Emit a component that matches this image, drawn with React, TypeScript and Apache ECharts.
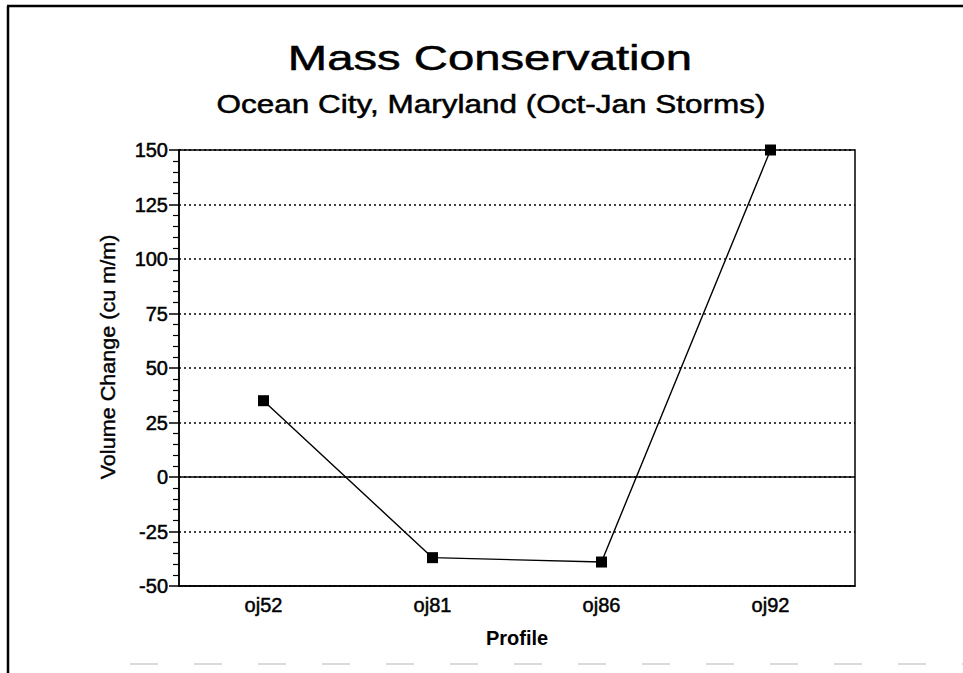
import React, { useEffect, useRef } from "react";
import * as echarts from "echarts";

const categories = ["oj52", "oj81", "oj86", "oj92"];
const volumeChange = [35, -37, -39, 150];
const titleText = "Mass Conservation";
const subtitleText = "Ocean City, Maryland (Oct-Jan Storms)";
const yAxisName = "Volume Change (cu m/m)";
const xAxisName = "Profile";

const FONT = "'Liberation Sans', Arial, Helvetica, sans-serif";
const heavy = { textBorderColor: "#000", textBorderWidth: 0.5 };

export default function App() {
  const ref = useRef<HTMLDivElement>(null);
  useEffect(() => {
    if (!ref.current) return;
    const chart = echarts.init(ref.current, null, { renderer: "svg" });
    chart.setOption({
      animation: false,
      backgroundColor: "#fff",
      grid: {
        left: 179,
        top: 150,
        width: 676,
        height: 436,
        show: true,
        borderColor: "#000",
        borderWidth: 1.5,
      },
      graphic: [
        { type: "line", shape: { x1: 8, y1: 6, x2: 8, y2: 673 }, style: { stroke: "#000", lineWidth: 2.5 } },
        { type: "line", shape: { x1: 7, y1: 6, x2: 963, y2: 6 }, style: { stroke: "#000", lineWidth: 2.5 } },
        {
          type: "line",
          shape: { x1: 130, y1: 664, x2: 963, y2: 664 },
          style: { stroke: "#dadada", lineWidth: 2, lineDash: [28, 36] },
        },
        {
          type: "text",
          x: 490,
          y: 58,
          scaleX: 1.35,
          style: {
            text: titleText,
            fontSize: 35,
            fontFamily: FONT,
            fill: "#000",
            stroke: "#000",
            lineWidth: 0.5,
            textAlign: "center",
            textVerticalAlign: "middle",
          },
        },
        {
          type: "text",
          x: 491,
          y: 104,
          scaleX: 1.26,
          style: {
            text: subtitleText,
            fontSize: 25,
            fontFamily: FONT,
            fill: "#000",
            stroke: "#000",
            lineWidth: 0.5,
            textAlign: "center",
            textVerticalAlign: "middle",
          },
        },
        {
          type: "text",
          x: 108,
          y: 357,
          rotation: Math.PI / 2,
          scaleX: 1.08,
          style: {
            text: yAxisName,
            fontSize: 20,
            fontFamily: FONT,
            fill: "#000",
            stroke: "#000",
            lineWidth: 0.4,
            textAlign: "center",
            textVerticalAlign: "middle",
          },
        },
      ],
      xAxis: {
        type: "category",
        data: categories,
        boundaryGap: true,
        name: xAxisName,
        nameLocation: "middle",
        nameGap: 42,
        nameTextStyle: { fontSize: 20, fontWeight: "bold", color: "#000", fontFamily: FONT },
        axisLine: { onZero: false, lineStyle: { color: "#000", width: 1.5 } },
        axisTick: { alignWithLabel: true, length: 6, lineStyle: { color: "#000", width: 1.5 } },
        axisLabel: { fontSize: 20, color: "#000", margin: 9, fontFamily: FONT, ...heavy },
        splitLine: { show: false },
      },
      yAxis: {
        type: "value",
        min: -50,
        max: 150,
        interval: 25,
        axisLine: { show: true, lineStyle: { color: "#000", width: 1.5 } },
        axisTick: { show: true, length: 10, lineStyle: { color: "#000", width: 1.5 } },
        minorTick: { show: true, splitNumber: 5, length: 6, lineStyle: { color: "#000", width: 1.2 } },
        axisLabel: { fontSize: 20, color: "#000", margin: 11, fontFamily: FONT, ...heavy },
        splitLine: { show: true, lineStyle: { color: "#000", width: 1.5, type: [2, 3] } },
      },
      series: [
        {
          type: "line",
          data: volumeChange,
          symbol: "rect",
          symbolSize: 11,
          clip: false,
          itemStyle: { color: "#000" },
          lineStyle: { color: "#000", width: 1.4 },
          markLine: {
            silent: true,
            symbol: "none",
            label: { show: false },
            lineStyle: { color: "#000", width: 1.5, type: "solid" },
            data: [{ yAxis: 0 }],
          },
        },
      ],
    });
    return () => chart.dispose();
  }, []);
  return (
    <div
      ref={ref}
      style={{ position: "absolute", left: 0, top: 0, width: 963, height: 673 }}
    />
  );
}
